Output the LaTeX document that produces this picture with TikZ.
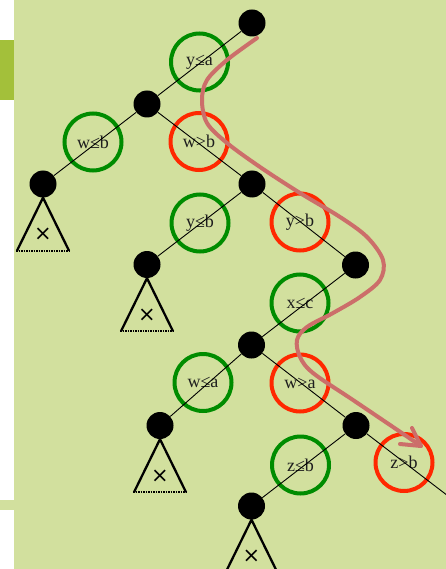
\documentclass[tikz,border=0pt]{standalone}
\usepackage{fontspec}
\setmainfont{Liberation Serif}
\newfontfamily\symfont{DejaVu Sans}

\definecolor{panel}{RGB}{210,224,158}
\definecolor{accent}{RGB}{163,192,58}
\definecolor{okgreen}{RGB}{0,140,0}
\definecolor{badred}{RGB}{255,40,0}
\definecolor{pathred}{RGB}{204,110,106}
\definecolor{labeltext}{RGB}{30,30,30}

\tikzset{
  dot/.style={circle,fill=black,inner sep=0pt,minimum size=27pt},
  test/.style={circle,line width=4pt,minimum size=57pt,inner sep=0pt,
               font=\fontsize{18}{18}\selectfont,text=labeltext},
  pass/.style={test,draw=okgreen},
  fail/.style={test,draw=badred},
  branch/.style={line width=0.9pt},
  route/.style={pathred,line width=4pt,line cap=round,line join=round},
  leaf/.pic={
    \draw[line width=2.3pt,line join=miter] (-26,53) -- (0,0) -- (26,53);
    \draw[line width=2.3pt,dash pattern=on 1.6pt off 0.9pt] (-27,53) -- (27,53);
    \node[font=\symfont\fontsize{21}{21}\selectfont] at (0,37) {×};
  }
}

\begin{document}
\begin{tikzpicture}[x=1pt,y=-1pt]
\useasboundingbox (0,0) rectangle (446,569);
\clip (0,0) rectangle (446,569);

% background panel and side marks
\fill[white] (0,0) rectangle (446,569);
\fill[panel] (14,0) rectangle (446,569);
\fill[accent] (0,40) rectangle (14,100);
\fill[panel] (0,500) rectangle (14,510);

% decision nodes
\node[dot] (n0) at (252,23) {};
\node[dot] (n1) at (147,104) {};
\node[dot] (n2) at (43,184) {};
\node[dot] (n3) at (252,184) {};
\node[dot] (n4) at (147,264.5) {};
\node[dot] (n5) at (355.5,265) {};
\node[dot] (n6) at (251.5,345) {};
\node[dot] (n7) at (160,425.5) {};
\node[dot] (n8) at (356,425.5) {};
\node[dot] (n9) at (251.5,506) {};
\coordinate (n10) at (452,499);

% branch tests
\node[pass] (t1) at (199.5,62) {y≤a};
\node[pass] (t2) at (93,142) {w≤b};
\node[fail] (t3) at (199,141.5) {w>b};
\node[pass] (t4) at (200,223) {y≤b};
\node[fail] (t5) at (300,222) {y>b};
\node[pass] (t6) at (300,303) {x≤c};
\node[pass] (t7) at (203,382.5) {w≤a};
\node[fail] (t8) at (300,383) {w>a};
\node[pass] (t9) at (300.5,465) {z≤b};
\node[fail] (t10) at (404,462.5) {z>b};

% branches
\draw[branch] (n0) -- (n1);
\draw[branch] (n1) -- (n2);
\draw[branch] (n1) -- (n3);
\draw[branch] (n3) -- (n4);
\draw[branch] (n3) -- (n5);
\draw[branch] (n5) -- (n6);
\draw[branch] (n6) -- (n7);
\draw[branch] (n6) -- (n8);
\draw[branch] (n8) -- (n9);
\draw[branch] (n8) -- (n10);

% pruned subtrees
\pic at (n2.south) {leaf};
\pic at (n4.south) {leaf};
\pic at (n7.south) {leaf};
\pic at (n9.south) {leaf};

% path followed through the tree, with an open arrowhead
\coordinate (start) at (257,38);
\coordinate (stop) at (421,446);
\draw[route] plot[smooth,tension=0.55] coordinates {
  (start) (227,60) (207,80) (202,100) (207,123) (227,143) (260,167)
  (300,193) (340,217) (367,237) (383,260) (380,280) (360,297)
  (333,313) (307,327) (297,340) (300,357) (313,373) (353,400)
  (393,427) (stop)};
\draw[route] (400,444) -- (stop) -- (412,428);
\end{tikzpicture}
\end{document}
